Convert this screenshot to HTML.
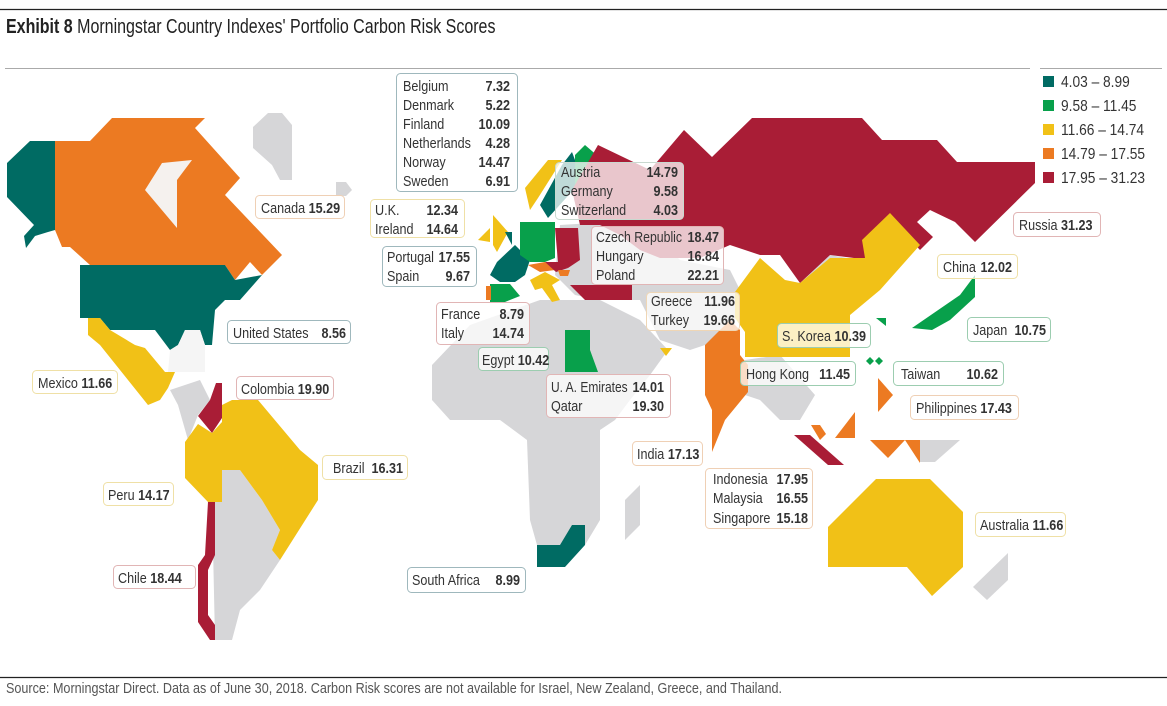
<!DOCTYPE html>
<html><head><meta charset="utf-8"><style>
html,body{margin:0;padding:0;background:#fff;}
svg{display:block;font-family:"Liberation Sans",sans-serif;}
.b{stroke-width:1;fill:#fff;fill-opacity:.75;}
.t text{font-size:15px;fill:#333;}
.v,.v text{font-size:15px;fill:#333;font-weight:bold;}
</style></head><body>
<svg width="1167" height="706" viewBox="0 0 1167 706" xmlns="http://www.w3.org/2000/svg">
<line x1="0" y1="9.5" x2="1167" y2="9.5" stroke="#222" stroke-width="1.2"/>
<text transform="translate(6,33) scale(.8,1)" font-size="20" fill="#222"><tspan font-weight="bold">Exhibit 8</tspan> Morningstar Country Indexes' Portfolio Carbon Risk Scores</text>
<line x1="5" y1="68.5" x2="1030" y2="68.5" stroke="#aaa" stroke-width="1"/>
<line x1="1040" y1="68.5" x2="1162" y2="68.5" stroke="#aaa" stroke-width="1"/>
<!-- legend -->
<g font-size="16" fill="#333">
<rect x="1043" y="76" width="11" height="11" fill="#006b63"/><text transform="translate(1061,87) scale(.86,1)">4.03 – 8.99</text>
<rect x="1043" y="100" width="11" height="11" fill="#08a04b"/><text transform="translate(1061,111) scale(.86,1)">9.58 – 11.45</text>
<rect x="1043" y="124" width="11" height="11" fill="#f1c117"/><text transform="translate(1061,135) scale(.86,1)">11.66 – 14.74</text>
<rect x="1043" y="148" width="11" height="11" fill="#ec7a22"/><text transform="translate(1061,159) scale(.86,1)">14.79 – 17.55</text>
<rect x="1043" y="172" width="11" height="11" fill="#a91d36"/><text transform="translate(1061,183) scale(.86,1)">17.95 – 31.23</text>
</g>

<!-- gray land -->
<g fill="#d6d6d8">
<polygon points="253,127 268,113 282,113 292,125 292,180 280,180 272,165 253,148"/>
<polygon points="336,182 346,182 352,190 346,196 336,196"/>
<polygon points="222,470 240,470 262,500 280,530 272,550 280,560 260,590 240,610 232,640 215,640 212,500 215,500"/>
<polygon points="170,390 200,380 210,400 198,415 188,440 178,405"/>
<polygon points="432,365 470,325 540,300 600,300 640,320 668,350 650,375 630,400 615,420 600,430 600,520 585,545 560,545 537,545 530,520 527,440 500,420 450,420 432,400"/>
<polygon points="625,500 640,485 640,525 625,540"/>
<polygon points="560,225 640,220 680,260 730,270 745,300 735,320 705,345 690,350 660,340 640,300 600,300 575,295 555,275"/>
<polygon points="745,360 780,355 815,395 800,420 780,420 760,400 745,395"/>
<polygon points="780,255 830,255 870,262 865,285 845,290 830,285 800,283"/>
<polygon points="920,440 960,440 935,462 920,462"/>
<polygon points="1008,553 1008,580 987,600 973,587"/>
<polygon points="742,378 752,378 752,395 742,395"/>
</g>
<!-- North America -->
<polygon fill="#006b63" points="7,163 30,141 55,141 55,230 48,232 35,236 26,248 24,236 34,225 7,197"/>
<polygon fill="#ec7a22" points="55,141 90,141 112,118 205,118 195,128 240,178 225,195 282,255 262,275 250,262 235,280 225,265 90,265 70,247 62,247 55,230"/>
<polygon fill="#f5f1ee" points="145,190 162,163 192,160 177,180 177,228"/>
<polygon fill="#006b63" points="80,265 225,265 235,280 262,275 240,300 225,300 215,310 212,345 205,345 200,330 185,330 178,345 170,350 155,330 110,330 100,318 80,318"/>
<polygon fill="#f1c117" points="88,318 100,318 110,330 135,345 145,348 165,372 175,372 168,388 160,400 148,405 100,345 88,335"/>
<polygon fill="#f5f5f5" points="170,350 178,345 185,330 200,330 205,345 205,372 168,372"/>
<!-- South America -->
<polygon fill="#a91d36" points="216,383 222,383 222,418 212,433 198,416 210,400"/>
<polygon fill="#f1c117" points="222,418 222,405 232,400 258,400 300,450 318,465 318,500 280,560 272,550 280,530 262,500 240,470 222,470"/>
<polygon fill="#f1c117" points="185,442 198,424 212,433 222,422 222,502 208,502 185,478"/>
<polygon fill="#a91d36" points="208,502 215,502 215,555 208,570 208,615 215,625 215,640 210,640 198,622 198,565 205,555"/>
<!-- Europe -->
<polygon fill="#f1c117" points="525,188 548,160 562,160 538,198 530,210"/>
<polygon fill="#006b63" points="540,205 562,165 572,152 575,160 575,188 548,218"/>
<polygon fill="#08a04b" points="575,155 585,145 600,158 598,175 575,188"/>
<polygon fill="#f1c117" points="478,240 490,228 490,242"/>
<polygon fill="#f1c117" points="493,215 508,232 497,252 493,245"/>
<polygon fill="#006b63" points="505,232 512,232 512,245"/>
<polygon fill="#006b63" points="497,262 515,245 530,260 525,275 515,282 500,282 490,275"/>
<polygon fill="#08a04b" points="520,222 555,222 555,258 545,262 530,262 520,255"/>
<polygon fill="#a91d36" points="555,228 578,228 580,260 568,268 558,262"/>
<polygon fill="#ec7a22" points="528,265 545,262 555,270 540,272"/>
<polygon fill="#a91d36" points="545,262 560,262 568,268 556,272"/>
<polygon fill="#ec7a22" points="558,270 570,270 568,276 560,276"/>
<polygon fill="#08a04b" points="490,284 510,284 520,296 505,302 490,302"/>
<polygon fill="#ec7a22" points="486,286 491,286 491,300 486,300"/>
<polygon fill="#f1c117" points="530,280 545,272 560,280 552,285 560,300 552,302 542,288 535,290"/>
<polygon fill="#a91d36" points="570,285 632,285 632,300 585,300"/>
<polygon fill="#08a04b" points="565,330 590,330 590,350 598,372 565,372"/>
<polygon fill="#006b63" points="537,545 560,545 572,525 585,525 585,545 565,567 537,567"/>
<polygon fill="#f1c117" points="660,348 672,348 666,356"/>
<!-- Asia -->
<polygon fill="#a91d36" points="572,190 598,145 650,170 684,130 712,157 752,118 862,118 882,140 937,140 957,162 1035,162 1035,183 975,242 955,222 930,210 917,222 933,237 920,250 890,218 870,260 830,255 800,283 780,255 760,255 730,245 700,258 660,258 640,250 620,235 600,225 580,225"/>
<polygon fill="#f1c117" points="735,292 760,258 785,280 800,283 830,258 865,258 862,240 890,213 920,245 880,290 850,315 850,357 745,357 745,332 735,318"/>
<polygon fill="#ec7a22" points="705,345 730,320 740,330 740,355 748,365 748,392 725,420 712,452 712,410 705,395"/>
<polygon fill="#08a04b" points="912,328 960,295 975,275 975,297 950,320 932,330"/>
<polygon fill="#08a04b" points="876,318 886,318 886,326"/>
<polygon fill="#08a04b" points="870,357 874,361 870,365 866,361"/>
<polygon fill="#08a04b" points="879,357 883,361 879,365 875,361"/>
<polygon fill="#ec7a22" points="878,378 893,395 878,412"/>
<polygon fill="#ec7a22" points="835,438 855,412 855,438"/>
<polygon fill="#ec7a22" points="870,440 905,440 888,458"/>
<polygon fill="#ec7a22" points="905,440 920,440 920,463"/>
<polygon fill="#ec7a22" points="811,425 820,425 826,434 820,440"/>
<polygon fill="#a91d36" points="794,435 810,435 844,465 828,465"/>
<polygon fill="#f1c117" points="876,479 930,479 963,512 963,567 932,596 907,567 828,567 828,527"/>

<!-- label boxes -->
<g class="b">
<rect x="396.5" y="73.5" width="121" height="118" rx="4" stroke="#9fb8bd"/>
<rect x="555.5" y="162.5" width="128" height="57" rx="4" stroke="#c9d9d0"/>
<rect x="370.5" y="199.5" width="94" height="38" rx="4" stroke="#efe0a6"/>
<rect x="382.5" y="246.5" width="94" height="40" rx="4" stroke="#9fb8bd"/>
<rect x="591.5" y="226.5" width="132" height="58" rx="4" stroke="#e1b5b5"/>
<rect x="436.5" y="302.5" width="93" height="42" rx="4" stroke="#e1b5b5"/>
<rect x="646.5" y="292.5" width="93" height="38" rx="4" stroke="#efd6b5"/>
<rect x="478.5" y="347.5" width="70" height="23" rx="4" stroke="#9ccdb0"/>
<rect x="546.5" y="374.5" width="124" height="43" rx="4" stroke="#e1b5b5"/>
<rect x="632.5" y="441.5" width="70" height="24" rx="4" stroke="#efd0b5"/>
<rect x="705.5" y="468.5" width="107" height="60" rx="4" stroke="#efd0b5"/>
<rect x="407.5" y="567.5" width="118" height="25" rx="4" stroke="#9fb8bd"/>
<rect x="255.5" y="195.5" width="89" height="23" rx="4" stroke="#efd0b5"/>
<rect x="227.5" y="320.5" width="123" height="23" rx="4" stroke="#9fb8bd"/>
<rect x="32.5" y="370.5" width="85" height="23" rx="4" stroke="#efe0a6"/>
<rect x="236.5" y="376.5" width="97" height="23" rx="4" stroke="#e1b5b5"/>
<rect x="322.5" y="455.5" width="85" height="24" rx="4" stroke="#efe0a6"/>
<rect x="103.5" y="482.5" width="70" height="23" rx="4" stroke="#efe0a6"/>
<rect x="113.5" y="565.5" width="82" height="23" rx="4" stroke="#e1b5b5"/>
<rect x="1013.5" y="212.5" width="87" height="24" rx="4" stroke="#e1b5b5"/>
<rect x="937.5" y="254.5" width="80" height="24" rx="4" stroke="#efe0a6"/>
<rect x="967.5" y="317.5" width="83" height="24" rx="4" stroke="#9ccdb0"/>
<rect x="777.5" y="323.5" width="93" height="24" rx="4" stroke="#9ccdb0"/>
<rect x="740.5" y="361.5" width="115" height="24" rx="4" stroke="#9ccdb0"/>
<rect x="893.5" y="361.5" width="110" height="24" rx="4" stroke="#9ccdb0"/>
<rect x="910.5" y="395.5" width="108" height="24" rx="4" stroke="#efd0b5"/>
<rect x="975.5" y="512.5" width="90" height="24" rx="4" stroke="#efe0a6"/>
</g>
<!-- label text -->
<g class="t">
<text transform="translate(403,91) scale(.84,1)">Belgium</text><text transform="translate(403,110) scale(.84,1)">Denmark</text><text transform="translate(403,129) scale(.84,1)">Finland</text><text transform="translate(403,148) scale(.84,1)">Netherlands</text><text transform="translate(403,167) scale(.84,1)">Norway</text><text transform="translate(403,186) scale(.84,1)">Sweden</text>
<text transform="translate(561,177) scale(.84,1)">Austria</text><text transform="translate(561,196) scale(.84,1)">Germany</text><text transform="translate(561,215) scale(.84,1)">Switzerland</text>
<text transform="translate(375,215) scale(.84,1)">U.K.</text><text transform="translate(375,234) scale(.84,1)">Ireland</text>
<text transform="translate(387,262) scale(.84,1)">Portugal</text><text transform="translate(387,281) scale(.84,1)">Spain</text>
<text transform="translate(596,242) scale(.82,1)">Czech Republic</text><text transform="translate(596,261) scale(.84,1)">Hungary</text><text transform="translate(596,280) scale(.84,1)">Poland</text>
<text transform="translate(441,319) scale(.84,1)">France</text><text transform="translate(441,338) scale(.84,1)">Italy</text>
<text transform="translate(651,306) scale(.84,1)">Greece</text><text transform="translate(651,325) scale(.84,1)">Turkey</text>
<text transform="translate(482,365) scale(.84,1)">Egypt <tspan font-weight="bold">10.42</tspan></text>
<text transform="translate(551,392) scale(.8,1)">U. A. Emirates</text><text transform="translate(551,411) scale(.84,1)">Qatar</text>
<text transform="translate(637,459) scale(.84,1)">India <tspan font-weight="bold">17.13</tspan></text>
<text transform="translate(713,484) scale(.84,1)">Indonesia</text><text transform="translate(713,503) scale(.84,1)">Malaysia</text><text transform="translate(713,523) scale(.84,1)">Singapore</text>
<text transform="translate(412,585) scale(.84,1)">South Africa</text>
<text transform="translate(261,213) scale(.84,1)">Canada <tspan font-weight="bold">15.29</tspan></text>
<text transform="translate(233,338) scale(.84,1)">United States</text>
<text transform="translate(38,388) scale(.84,1)">Mexico <tspan font-weight="bold">11.66</tspan></text>
<text transform="translate(241,394) scale(.84,1)">Colombia <tspan font-weight="bold">19.90</tspan></text>
<text transform="translate(333,473) scale(.84,1)">Brazil</text>
<text transform="translate(108,500) scale(.84,1)">Peru <tspan font-weight="bold">14.17</tspan></text>
<text transform="translate(118,583) scale(.84,1)">Chile <tspan font-weight="bold">18.44</tspan></text>
<text transform="translate(1019,230) scale(.84,1)">Russia <tspan font-weight="bold">31.23</tspan></text>
<text transform="translate(943,272) scale(.84,1)">China</text>
<text transform="translate(973,335) scale(.84,1)">Japan</text>
<text transform="translate(782,341) scale(.84,1)">S. Korea <tspan font-weight="bold">10.39</tspan></text>
<text transform="translate(746,379) scale(.84,1)">Hong Kong</text>
<text transform="translate(901,379) scale(.84,1)">Taiwan</text>
<text transform="translate(916,413) scale(.84,1)">Philippines <tspan font-weight="bold">17.43</tspan></text>
<text transform="translate(980,530) scale(.84,1)">Australia <tspan font-weight="bold">11.66</tspan></text>
</g>
<g class="v" text-anchor="end">
<text transform="translate(510,91) scale(.84,1)">7.32</text><text transform="translate(510,110) scale(.84,1)">5.22</text><text transform="translate(510,129) scale(.84,1)">10.09</text><text transform="translate(510,148) scale(.84,1)">4.28</text><text transform="translate(510,167) scale(.84,1)">14.47</text><text transform="translate(510,186) scale(.84,1)">6.91</text>
<text transform="translate(678,177) scale(.84,1)">14.79</text><text transform="translate(678,196) scale(.84,1)">9.58</text><text transform="translate(678,215) scale(.84,1)">4.03</text>
<text transform="translate(458,215) scale(.84,1)">12.34</text><text transform="translate(458,234) scale(.84,1)">14.64</text>
<text transform="translate(470,262) scale(.84,1)">17.55</text><text transform="translate(470,281) scale(.84,1)">9.67</text>
<text transform="translate(719,242) scale(.84,1)">18.47</text><text transform="translate(719,261) scale(.84,1)">16.84</text><text transform="translate(719,280) scale(.84,1)">22.21</text>
<text transform="translate(524,319) scale(.84,1)">8.79</text><text transform="translate(524,338) scale(.84,1)">14.74</text>
<text transform="translate(735,306) scale(.84,1)">11.96</text><text transform="translate(735,325) scale(.84,1)">19.66</text>
<text transform="translate(664,392) scale(.84,1)">14.01</text><text transform="translate(664,411) scale(.84,1)">19.30</text>
<text transform="translate(808,484) scale(.84,1)">17.95</text><text transform="translate(808,503) scale(.84,1)">16.55</text><text transform="translate(808,523) scale(.84,1)">15.18</text>
<text transform="translate(520,585) scale(.84,1)">8.99</text>
<text transform="translate(346,338) scale(.84,1)">8.56</text>
<text transform="translate(403,473) scale(.84,1)">16.31</text>
<text transform="translate(1012,272) scale(.84,1)">12.02</text>
<text transform="translate(1046,335) scale(.84,1)">10.75</text>
<text transform="translate(850,379) scale(.84,1)">11.45</text>
<text transform="translate(998,379) scale(.84,1)">10.62</text>
</g>
<line x1="0" y1="677.5" x2="1167" y2="677.5" stroke="#222" stroke-width="1.2"/>
<text transform="translate(6,693) scale(.87,1)" font-size="14.5" fill="#555">Source: Morningstar Direct. Data as of June 30, 2018. Carbon Risk scores are not available for Israel, New Zealand, Greece, and Thailand.</text>
</svg>
</body></html>
